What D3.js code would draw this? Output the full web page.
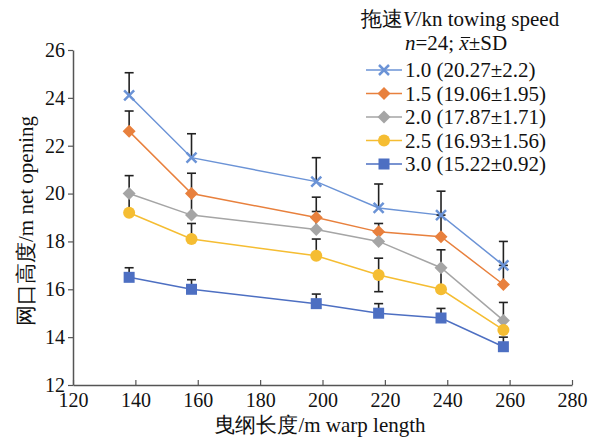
<!DOCTYPE html>
<meta charset="utf-8">
<style>
    html, body { margin: 0; padding: 0; background: #fff; }
    svg { display: block; }
    .serif { font-family: 'Liberation Serif'; font-size: 21px; fill: #111; }
    .tick .serif { font-size: 20px; }
</style>
<div id="chart"></div>
<script src="https://d3js.org/d3.v7.min.js"></script>
<script>
    // warp length (m)
    const warpLength = [138, 158, 198, 218, 238, 258];

    // net opening (m) per towing speed
    const speed10 = [24.1, 21.5, 20.5, 19.4, 19.1, 17.0];
    const speed15 = [22.6, 20.0, 19.0, 18.4, 18.2, 16.2];
    const speed20 = [20.0, 19.1, 18.5, 18.0, 16.9, 14.7];
    const speed25 = [19.2, 18.1, 17.4, 16.6, 16.0, 14.3];
    const speed30 = [16.5, 16.0, 15.4, 15.0, 14.8, 13.6];

    // error bars (plus / minus)
    const sdUp10 = [0.95, 1.0, 1.0, 1.0, 1.0, 1.0];
    const sdUp15 = [0.85, 0.85, 0.85, 0.35, 0.9, 0.8];
    const sdUp20 = [0.75, 0.9, 0.75, 0.4, 0.75, 0.75];
    const sdUp25 = [0.8, 0.65, 0.7, 0.7, 0.9, 0.4];
    const sdUp30 = [0.4, 0.4, 0.4, 0.4, 0.4, 0.4];
    const sdDown25 = [0, 0, 0, 0.7, 0, 0];

    const legendLabels = ["1.0 (20.27±2.2)", "1.5 (19.06±1.95)", "2.0 (17.87±1.71)",
        "2.5 (16.93±1.56)", "3.0 (15.22±0.92)"];
    const xTicks = [120, 140, 160, 180, 200, 220, 240, 260, 280];
    const yTicks = [12, 14, 16, 18, 20, 22, 24, 26];

    const series = [
        {values: speed10, up: sdUp10, down: null, color: "#6b93d6", marker: "x"},
        {values: speed15, up: sdUp15, down: null, color: "#e8803d", marker: "diamond"},
        {values: speed20, up: sdUp20, down: null, color: "#a5a5a5", marker: "diamond"},
        {values: speed25, up: sdUp25, down: sdDown25, color: "#f5bd32", marker: "circle"},
        {values: speed30, up: sdUp30, down: null, color: "#4d6fc2", marker: "square"}
    ];

    const width = 598, height = 441;
    const margin = {left: 73, right: 26, top: 50, bottom: 56};

    const svg = d3.select("#chart").append("svg")
        .attr("width", width)
        .attr("height", height);

    const x = d3.scaleLinear().domain([120, 280]).range([margin.left, width - margin.right]);
    const y = d3.scaleLinear().domain([12, 26]).range([height - margin.bottom, margin.top]);

    // axes
    const xAxis = svg.append("g")
        .attr("transform", `translate(0,${y(12)})`)
        .call(d3.axisBottom(x).tickValues(xTicks).tickSizeInner(-5).tickSizeOuter(0).tickPadding(8));
    const yAxis = svg.append("g")
        .attr("transform", `translate(${x(120)},0)`)
        .call(d3.axisLeft(y).tickValues(yTicks).tickSizeInner(5).tickSizeOuter(0).tickPadding(3));

    [xAxis, yAxis].forEach(g => {
        g.attr("font-family", null).attr("font-size", null);
        g.select(".domain").attr("stroke", "#555").attr("stroke-width", 1.5);
        g.selectAll(".tick line").attr("stroke", "#555").attr("stroke-width", 1.2);
        g.selectAll(".tick text").attr("class", "serif").attr("fill", null);
    });

    svg.append("text")
        .attr("class", "serif")
        .attr("x", 320)
        .attr("y", 432)
        .attr("text-anchor", "middle")
        .text("曳纲长度/m warp length");

    svg.append("text")
        .attr("class", "serif")
        .attr("transform", "translate(33,221) rotate(-90)")
        .attr("text-anchor", "middle")
        .text("网口高度/m  net opening");

    // lines
    const line = d3.line()
        .x((d, i) => x(warpLength[i]))
        .y(d => y(d));

    const plot = svg.append("g");

    series.forEach(s => {
        plot.append("path")
            .datum(s.values)
            .attr("fill", "none")
            .attr("stroke", s.color)
            .attr("stroke-width", 1.5)
            .attr("d", line);
    });

    // error bars
    const cap = 4.5;
    series.forEach(s => {
        s.values.forEach((v, i) => {
            const cx = x(warpLength[i]);
            const top = v + s.up[i];
            const bottom = s.down ? v - s.down[i] : v;
            const eb = plot.append("g")
                .attr("stroke", "#222")
                .attr("stroke-width", 1.6);
            eb.append("line")
                .attr("x1", cx).attr("x2", cx)
                .attr("y1", y(top)).attr("y2", y(bottom));
            eb.append("line")
                .attr("x1", cx - cap).attr("x2", cx + cap)
                .attr("y1", y(top)).attr("y2", y(top));
            if (s.down && s.down[i] > 0) {
                eb.append("line")
                    .attr("x1", cx - cap).attr("x2", cx + cap)
                    .attr("y1", y(bottom)).attr("y2", y(bottom));
            }
        });
    });

    function drawMarker(g, type, cx, cy, color) {
        if (type === "x") {
            const r = 5;
            g.append("path")
                .attr("d", `M${cx - r},${cy - r}L${cx + r},${cy + r}M${cx - r},${cy + r}L${cx + r},${cy - r}`)
                .attr("stroke", color)
                .attr("stroke-width", 2.5)
                .attr("fill", "none");
        } else if (type === "diamond") {
            const r = 6.5;
            g.append("path")
                .attr("d", `M${cx},${cy - r}L${cx + r},${cy}L${cx},${cy + r}L${cx - r},${cy}Z`)
                .attr("fill", color);
        } else if (type === "circle") {
            g.append("circle")
                .attr("cx", cx).attr("cy", cy).attr("r", 6)
                .attr("fill", color);
        } else {
            const r = 5.5;
            g.append("rect")
                .attr("x", cx - r).attr("y", cy - r)
                .attr("width", 2 * r).attr("height", 2 * r)
                .attr("fill", color);
        }
    }

    // markers
    series.forEach(s => {
        s.values.forEach((v, i) => drawMarker(plot, s.marker, x(warpLength[i]), y(v), s.color));
    });

    // legend
    const legend = svg.append("g");
    const title = legend.append("text")
        .attr("class", "serif")
        .attr("x", 460)
        .attr("y", 26)
        .attr("text-anchor", "middle");
    title.append("tspan").text("拖速");
    title.append("tspan").style("font-style", "italic").text("V");
    title.append("tspan").text("/kn towing speed");

    const sub = legend.append("text")
        .attr("class", "serif")
        .attr("x", 456)
        .attr("y", 50)
        .attr("text-anchor", "middle");
    sub.append("tspan").style("font-style", "italic").text("n");
    sub.append("tspan").text("=24; ");
    sub.append("tspan").style("font-style", "italic").text("x");
    sub.append("tspan").text("±SD");

    // bar over the mean symbol
    const xi = "n=24; ".length;
    const p0 = sub.node().getStartPositionOfChar(xi);
    const p1 = sub.node().getEndPositionOfChar(xi);
    legend.append("line")
        .attr("x1", p0.x + 1.5).attr("x2", p1.x + 1.5)
        .attr("y1", 50 - 12.5).attr("y2", 50 - 12.5)
        .attr("stroke", "#111")
        .attr("stroke-width", 1);

    series.forEach((s, i) => {
        const ly = 70 + i * 23.5;
        legend.append("line")
            .attr("x1", 366).attr("x2", 402)
            .attr("y1", ly).attr("y2", ly)
            .attr("stroke", s.color)
            .attr("stroke-width", 1.5);
        drawMarker(legend, s.marker, 384, ly, s.color);
        legend.append("text")
            .attr("class", "serif")
            .attr("x", 405)
            .attr("y", ly + 7)
            .text(legendLabels[i]);
    });
</script>
